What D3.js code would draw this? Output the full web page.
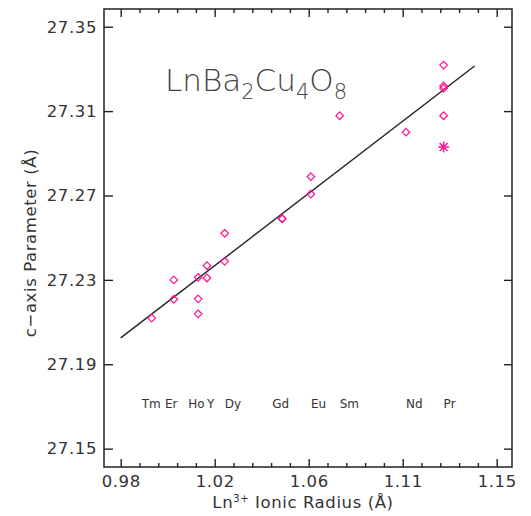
<!DOCTYPE html>
<html lang="en">

<head>
  <meta charset="UTF-8">
  <title>LnBa2Cu4O8 c-axis</title>
  <style>
    body { margin: 0; background: #fff; }
    text { font-family: 'DejaVu Sans', sans-serif; fill: #333; }
  </style>
</head>

<body>
  <svg id="svg" width="531" height="516"></svg>

  <script src="https://d3js.org/d3.v7.min.js"></script>
  <script>
    // ionic radius (A) and c-axis parameter (A) for each sample
    const radius = [0.994, 1.004, 1.004, 1.015, 1.015, 1.015, 1.019, 1.019, 1.027, 1.027,
      1.053, 1.053, 1.066, 1.066, 1.079, 1.109, 1.126, 1.126, 1.126, 1.126]
    const cAxis = [27.2119, 27.2300, 27.2208, 27.2312, 27.2210, 27.2139, 27.2367, 27.2309, 27.2521, 27.2388,
      27.2589, 27.2591, 27.2789, 27.2707, 27.3078, 27.3000, 27.3318, 27.3219, 27.3208, 27.3078]

    // the odd one out, drawn as an asterisk
    const starRadius = [1.126]
    const starC = [27.293]

    // least-squares line end points
    const fitX = [0.98, 1.14]
    const fitY = [27.2025, 27.3314]

    // element names along the bottom
    const elements = ['Tm', 'Er', 'Ho', 'Y', 'Dy', 'Gd', 'Eu', 'Sm', 'Nd', 'Pr']
    const elementX = [0.9895, 1.0, 1.0105, 1.019, 1.027, 1.0485, 1.066, 1.079, 1.109, 1.126]

    const xTicks = [0.98, 1.0225, 1.065, 1.1075, 1.15]
    const xTickLabels = ['0.98', '1.02', '1.06', '1.11', '1.15']
    const yTicks = [27.15, 27.19, 27.23, 27.27, 27.31, 27.35]

    const mLeft = 104, mRight = 512, mTop = 9, mBottom = 467

    const xScale = d3.scaleLinear()
      .domain([0.97245, 1.15692])
      .range([mLeft, mRight])

    const yScale = d3.scaleLinear()
      .domain([27.1413, 27.3584])
      .range([mBottom, mTop])

    const svg = d3.select('#svg')

    // minor ticks on the x axis, five per major step
    const xMinor = []
    for (let i = 0; i < xTicks.length - 1; i++) {
      for (let k = 1; k < 5; k++) xMinor.push(xTicks[i] + (xTicks[i + 1] - xTicks[i]) * k / 5)
    }

    const styleAxis = g => {
      g.select('.domain').remove()
      g.selectAll('line').attr('stroke', '#222').attr('stroke-width', 1.4)
      g.selectAll('text')
        .style('font-family', "'DejaVu Sans', sans-serif")
        .style('font-size', '16.5px')
        .style('letter-spacing', '0.6px')
        .attr('fill', '#333')
    }

    // bottom axis with labels
    svg.append('g')
      .attr('transform', `translate(0,${mBottom})`)
      .call(d3.axisBottom(xScale).tickValues(xTicks).tickSize(-8).tickPadding(8)
        .tickFormat((d, i) => xTickLabels[i]))
      .call(styleAxis)
    svg.append('g')
      .attr('transform', `translate(0,${mBottom})`)
      .call(d3.axisBottom(xScale).tickValues(xMinor).tickSize(-4).tickFormat(''))
      .call(styleAxis)

    // top axis, mirrored ticks
    svg.append('g')
      .attr('transform', `translate(0,${mTop})`)
      .call(d3.axisTop(xScale).tickValues(xTicks).tickSize(-8).tickFormat(''))
      .call(styleAxis)
    svg.append('g')
      .attr('transform', `translate(0,${mTop})`)
      .call(d3.axisTop(xScale).tickValues(xMinor).tickSize(-4).tickFormat(''))
      .call(styleAxis)

    // left axis with labels
    svg.append('g')
      .attr('transform', `translate(${mLeft},0)`)
      .call(d3.axisLeft(yScale).tickValues(yTicks).tickSize(-9).tickPadding(7)
        .tickFormat(d3.format('.2f')))
      .call(styleAxis)

    // right axis, mirrored ticks
    svg.append('g')
      .attr('transform', `translate(${mRight},0)`)
      .call(d3.axisRight(yScale).tickValues(yTicks).tickSize(-8).tickFormat(''))
      .call(styleAxis)

    // frame
    svg.append('rect')
      .attr('x', mLeft).attr('y', mTop)
      .attr('width', mRight - mLeft).attr('height', mBottom - mTop)
      .attr('fill', 'none').attr('stroke', '#222').attr('stroke-width', 1.5)

    // fit line
    svg.append('path')
      .attr('d', d3.line()(fitX.map((x, i) => [xScale(x), yScale(fitY[i])])))
      .attr('stroke', '#222')
      .attr('stroke-width', 1.4)
      .attr('fill', 'none')

    // diamonds
    const s = 3.8
    svg.append('g')
      .selectAll('path')
      .data(radius)
      .enter()
      .append('path')
      .attr('d', (d, i) => {
        const cx = xScale(d), cy = yScale(cAxis[i])
        return `M${cx},${cy - s}L${cx + s},${cy}L${cx},${cy + s}L${cx - s},${cy}Z`
      })
      .attr('fill', 'none')
      .attr('stroke', '#ff1493')
      .attr('stroke-width', 1.2)

    // asterisk
    const a = 5.5, b = a * 0.72
    svg.append('g')
      .selectAll('path')
      .data(starRadius)
      .enter()
      .append('path')
      .attr('d', (d, i) => {
        const cx = xScale(d), cy = yScale(starC[i])
        return `M${cx - a},${cy}H${cx + a}M${cx},${cy - a}V${cy + a}` +
          `M${cx - b},${cy - b}L${cx + b},${cy + b}M${cx - b},${cy + b}L${cx + b},${cy - b}`
      })
      .attr('fill', 'none')
      .attr('stroke', '#ff1493')
      .attr('stroke-width', 1.5)

    // element labels
    svg.append('g')
      .selectAll('text')
      .data(elements)
      .enter()
      .append('text')
      .text(d => d)
      .attr('x', (d, i) => xScale(elementX[i]))
      .attr('y', 408)
      .style('font-size', '12px')

    // compound name
    const title = svg.append('text')
      .attr('x', 165)
      .attr('y', 91)
      .style('font-size', '31px')
      .style('font-weight', '200')
      .style('fill', '#444')
    const parts = [['LnBa', 0], ['2', 8], ['Cu', -8], ['4', 8], ['O', -8], ['8', 8]]
    parts.forEach(([t, dy]) => {
      title.append('tspan')
        .text(t)
        .attr('dy', dy)
        .style('font-size', dy > 0 ? '21px' : '31px')
    })

    // axis titles
    const xt = svg.append('text')
      .attr('x', 303)
      .attr('y', 508)
      .attr('text-anchor', 'middle')
      .style('font-size', '16.5px')
      .style('letter-spacing', '0.6px')
    xt.append('tspan').text('Ln')
    xt.append('tspan').text('3+').attr('dy', -6).style('font-size', '10px')
    xt.append('tspan').text(' Ionic Radius (Å)').attr('dy', 6)

    svg.append('text')
      .attr('transform', 'translate(36,243) rotate(-90)')
      .attr('text-anchor', 'middle')
      .style('font-size', '16.5px')
      .style('letter-spacing', '0.6px')
      .text('c−axis Parameter (Å)')
  </script>

</body>

</html>
